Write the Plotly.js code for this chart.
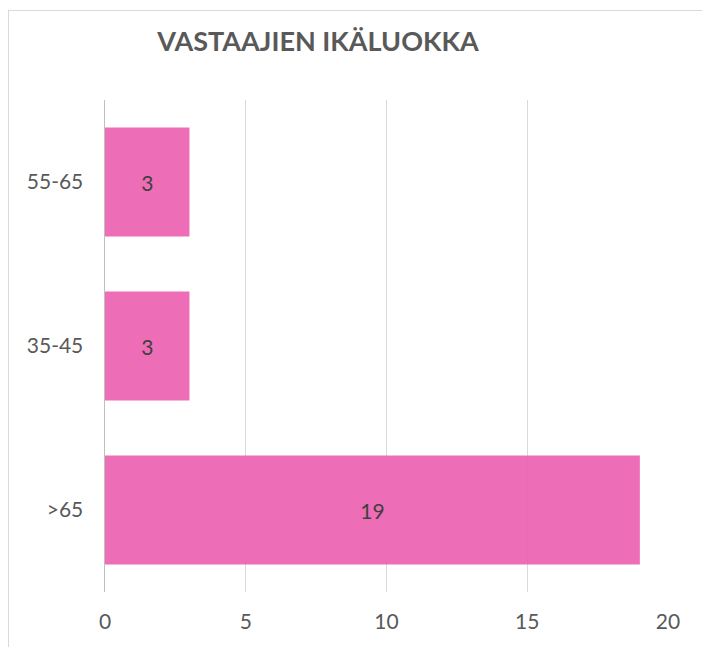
<!DOCTYPE html>
<html><head><meta charset="utf-8">
<script src="https://cdn.plot.ly/plotly-3.0.1.min.js"></script>
<style>
html,body{margin:0;padding:0;background:#fff;overflow:hidden}
#frame{position:absolute;left:8px;top:10px;width:720px;height:680px;border:1.5px solid #d9d9d9;pointer-events:none;z-index:5}
#chart{position:absolute;left:0;top:0;width:702px;height:647px}
</style></head>
<body>
<div id="chart"></div>
<div id="frame"></div>
<script>
const categories = [">65", "35-45", "55-65"];
const values = [19, 3, 3];
const xTicks = [0, 5, 10, 15, 20];
const titleText = "VASTAAJIEN IKÄLUOKKA";

const font = "Lato, Open Sans, sans-serif";
Plotly.newPlot("chart", [{
  type: "bar",
  orientation: "h",
  y: categories,
  x: values,
  width: 0.665,
  marker: {color: "rgba(236,101,178,0.95)", line: {width: 0}},
  text: values.map(String),
  textposition: "inside",
  insidetextanchor: "middle",
  textfont: {family: font, size: 21, color: "#404040"},
  hoverinfo: "none"
}], {
  width: 702, height: 647,
  margin: {l: 105, r: 34, t: 100, b: 55},
  paper_bgcolor: "#fff", plot_bgcolor: "#fff",
  showlegend: false,
  title: {text: "<b>" + titleText + "</b>", x: 318/702, xanchor: "center", y: 1 - 42/647, yanchor: "middle",
          font: {family: font, size: 27, color: "#595959"}},
  xaxis: {range: [0, 20], tickvals: xTicks, ticktext: xTicks.map(String),
          showgrid: true, gridcolor: "#d9d9d9", gridwidth: 1.3, zeroline: false,
          showline: false, ticks: "outside", ticklen: 11, tickcolor: "rgba(0,0,0,0)",
          tickfont: {family: font, size: 21, color: "#595959"}, fixedrange: true},
  yaxis: {categoryorder: "array", categoryarray: categories, showgrid: false, zeroline: false,
          showline: true, linecolor: "#bfbfbf", linewidth: 1.5,
          ticks: "outside", ticklen: 16, tickcolor: "rgba(0,0,0,0)",
          tickfont: {family: font, size: 21, color: "#595959"}, fixedrange: true},
  bargap: 0.335
}, {displayModeBar: false, staticPlot: true});
</script>
</body></html>
